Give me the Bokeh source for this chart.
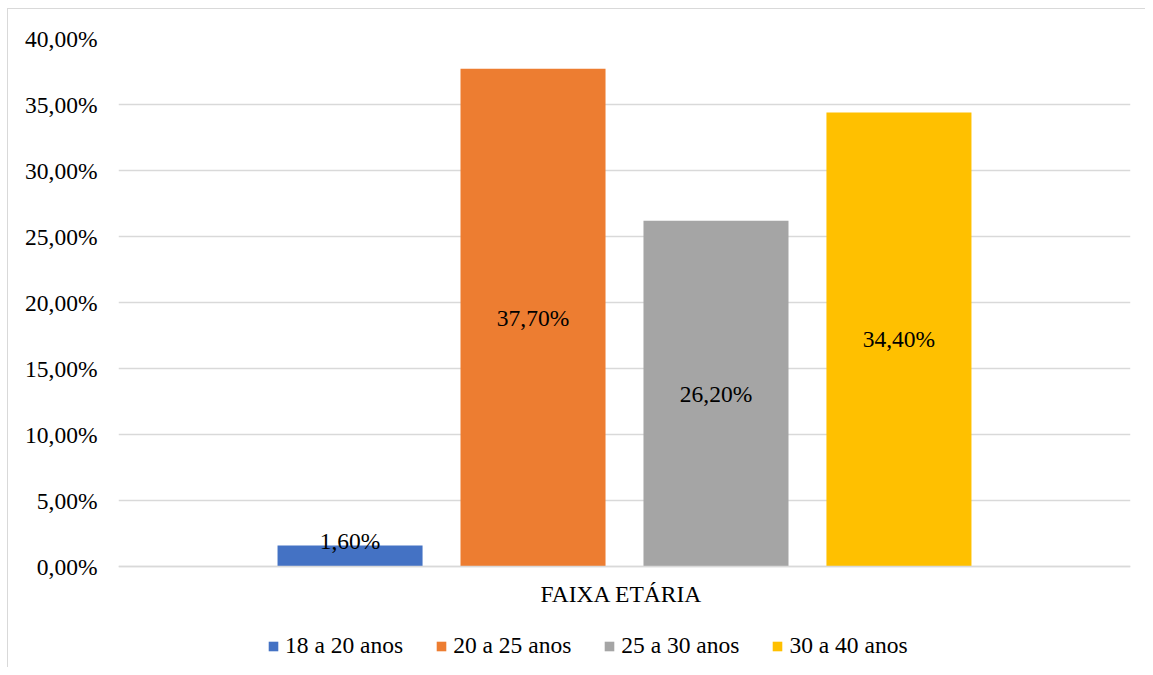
from bokeh.plotting import figure
from bokeh.models import (ColumnDataSource, FixedTicker, CustomJSTickFormatter, Legend,
                          LegendItem, InlineStyleSheet, Span)
from bokeh.transform import dodge
from bokeh.core.properties import value
from bokeh.embed import file_html
from bokeh.resources import INLINE

category = ["FAIXA ETÁRIA"]
series = ["18 a 20 anos", "20 a 25 anos", "25 a 30 anos", "30 a 40 anos"]
values = [1.60, 37.70, 26.20, 34.40]
colors = ["#4472C4", "#ED7D31", "#A5A5A5", "#FFC000"]
y_ticks = [0, 5, 10, 15, 20, 25, 30, 35, 40]

FONT = "Liberation Serif"
FS = "23.5px"
GRID = "#d9d9d9"

# layout (pixels)
W, H = 1145, 667
TOP, LEFT, RIGHT, BOTTOM = 38, 118, 15, 8
ZERO_PX = 566          # screen y of the 0 % line
px_per_unit = (ZERO_PX - TOP) / 40.0
y_start = -(H - BOTTOM - ZERO_PX) / px_per_unit

p = figure(x_range=category, y_range=(y_start, 40), width=W, height=H,
           output_backend="svg", toolbar_location=None, x_axis_location=None,
           min_border_left=LEFT, min_border_right=RIGHT, min_border_top=TOP,
           min_border_bottom=BOTTOM)
p.outline_line_color = None
p.background_fill_color = "white"
p.border_fill_color = "white"

bar_w = 0.1433
step = 0.1808
items = []
for i, (name, v, c) in enumerate(zip(series, values, colors)):
    off = (i - 1.5) * step
    lab_y = v / 2 if v / 2 > 1.9 else 1.9
    src = ColumnDataSource(dict(x=category, top=[v], ly=[lab_y],
                                txt=[f"{v:.2f}".replace(".", ",") + "%"]))
    r = p.vbar(x=dodge("x", off, range=p.x_range), top="top", bottom=0, width=bar_w,
               source=src, fill_color=c, line_color=None)
    p.text(x=dodge("x", off, range=p.x_range), y="ly", text="txt", source=src,
           text_align="center", text_baseline="middle", text_font=value(FONT),
           text_font_size=FS, text_color="#000000")
    items.append(LegendItem(label=name, renderers=[r]))

# category axis: line at 0 and category label
p.add_layout(Span(location=0, dimension="width", line_color=GRID, line_width=1.5))
p.text(x=category, y=[0] * len(category), text=category, y_offset=27, x_offset=-3,
       text_align="center", text_baseline="middle", text_font=value(FONT),
       text_font_size=FS, text_color="#000000")

# y axis
p.yaxis.ticker = FixedTicker(ticks=y_ticks)
p.yaxis.formatter = CustomJSTickFormatter(
    code="return tick.toFixed(2).replace('.', ',') + '%';")
p.yaxis.axis_line_color = None
p.yaxis.major_tick_line_color = None
p.yaxis.minor_tick_line_color = None
p.yaxis.major_label_text_font = FONT
p.yaxis.major_label_text_font_size = FS
p.yaxis.major_label_text_color = "#000000"
p.yaxis.major_label_standoff = 15

p.xgrid.grid_line_color = None
p.ygrid.grid_line_color = GRID
p.ygrid.grid_line_width = 1.3

legend = Legend(items=items, location=(149, 0), orientation="horizontal",
                glyph_width=12, glyph_height=12, label_standoff=6, spacing=32,
                padding=0, margin=0, border_line_color=None, background_fill_alpha=0,
                label_text_font=FONT, label_text_font_size=FS,
                label_text_color="#000000")
p.add_layout(legend, "center")

p.stylesheets = [InlineStyleSheet(css="""
:host { position: relative; }
:host::after {
  content: ""; position: absolute; left: 7px; top: 8px; right: 0; bottom: 0;
  border-left: 1.5px solid #d9d9d9; border-top: 1.5px solid #d9d9d9;
  pointer-events: none; z-index: 10;
}
""")]

open("out.html", "w").write(file_html(p, INLINE))
